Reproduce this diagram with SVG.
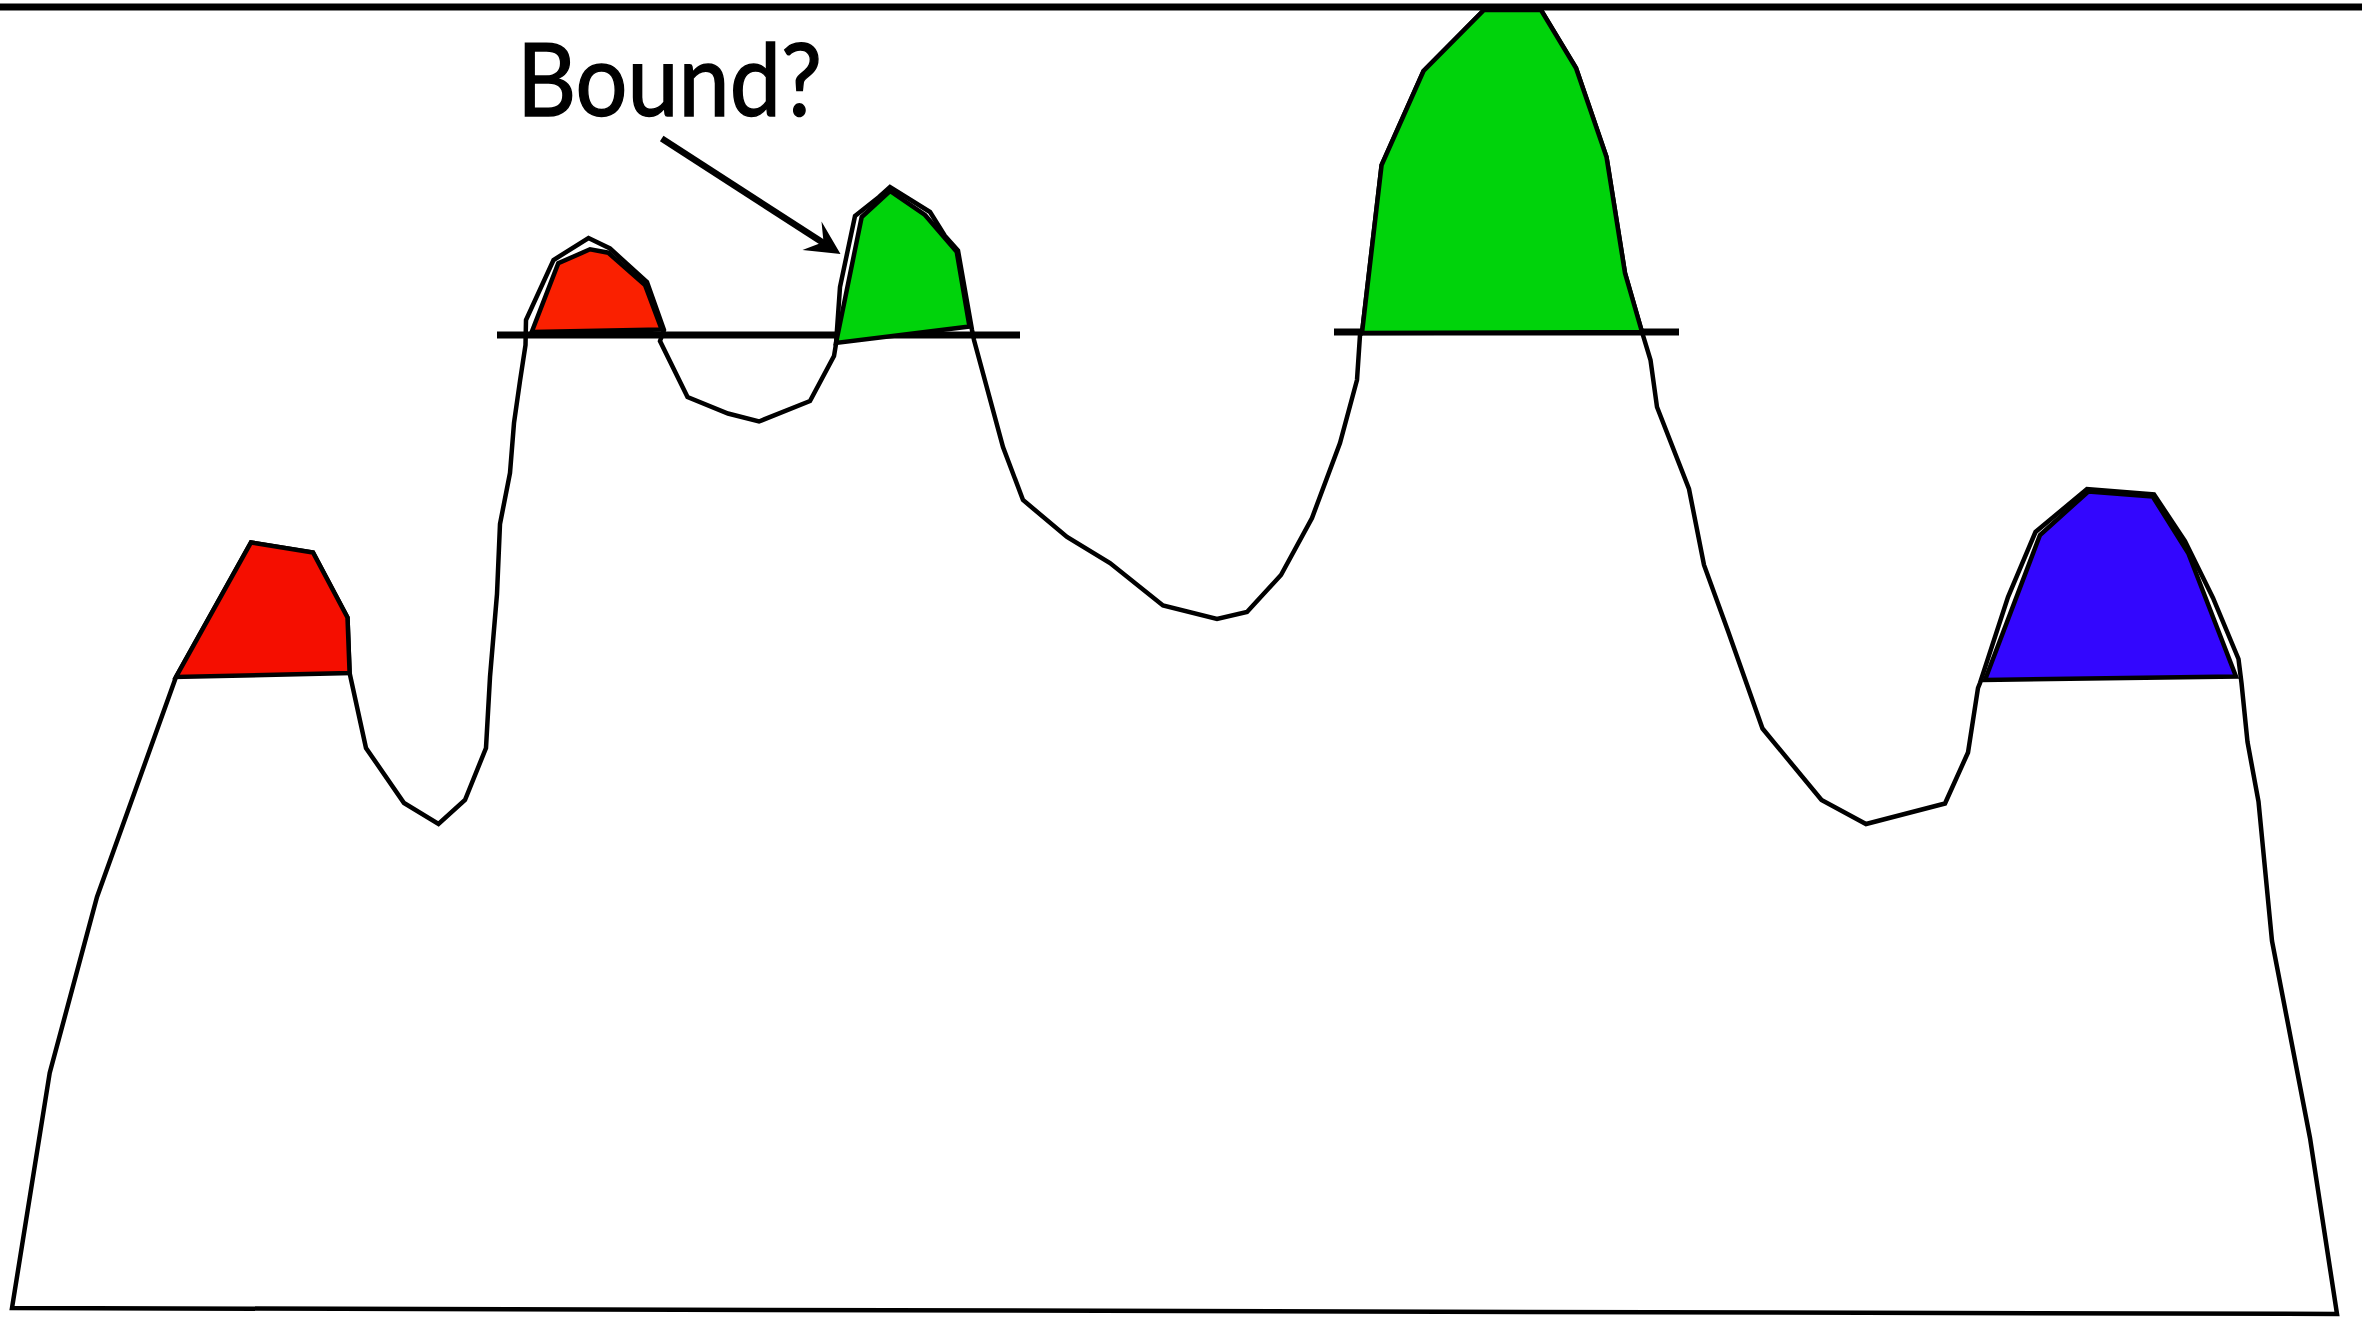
<svg xmlns="http://www.w3.org/2000/svg" width="2362" height="1318" viewBox="0 0 2362 1318">
  <style>
    .terrain { fill: #ffffff; stroke: #000000; stroke-width: 4.5; stroke-linejoin: miter; stroke-miterlimit: 10; }
    .peak { stroke: #000000; stroke-width: 4.5; stroke-linejoin: miter; stroke-miterlimit: 10; }
    .red1 { fill: #f50e00; }
    .red2 { fill: #fa2000; }
    .green { fill: #00d30b; }
    .blue { fill: #3306fe; }
    .bar { stroke: #000000; stroke-width: 7; fill: none; }
    .label { font-family: "Lato", "Open Sans", "Liberation Sans", sans-serif; font-size: 101px; fill: #000000; stroke: #000000; stroke-width: 1.5; }
    .arrow { stroke: #000000; stroke-width: 6.5; fill: none; }
  </style>
  <rect x="0" y="0" width="2362" height="1318" fill="#ffffff"/>

  <g id="terrain">
    <path class="terrain" d="M12,1308 L49.7,1073 L97,897 L176,677 L251,542.5 L313,552.5 L347.5,617.5 L349.6,673 L366,748 L404,803 L438.5,824 L465,800 L486,748 L490,677 L497,594 L500,524 L510,473 L514,423 L520,381 L525.5,345 L526,320 L553.5,260 L588.5,238 L610,248.5 L647,282 L664,330 L660,341 L687.5,397 L728,413.5 L759,421.5 L810,401 L834,356 L836,344 L840,287 L855,216 L879,197 L890,187 L930,212 L945,236 L958,250.5 L972,330 L974,340 L1003,447 L1023,500 L1067,537 L1110,563 L1163,605.5 L1217,619 L1247,612 L1281,575 L1312,518 L1340,443 L1357,380 L1360,335 L1362,333 L1381.6,165 L1423.5,71 L1484,10 L1541,10 L1576,68 L1606.5,157 L1625,273 L1642,332 L1650.5,360 L1657,407 L1689,489 L1704,565 L1728,631 L1762.5,728.5 L1821.5,800 L1866,824 L1945,803.5 L1968,752.5 L1978,688 L1980,683 L2008,597 L2035.5,532 L2087,489 L2154,494.5 L2185,541 L2213,598 L2238.5,659 L2241.5,683 L2247.5,742 L2258.5,801.5 L2272,941 L2310,1138 L2337,1314 Z"/>
  </g>

  <g id="bars">
    <line id="bar-left" class="bar" x1="497" y1="335" x2="1020" y2="335"/>
    <line id="bar-right" class="bar" x1="1334" y1="332" x2="1679" y2="332"/>
  </g>

  <g id="peak-red-1">
    <polygon class="peak red1" points="176,677 251,542.5 313,552.5 347.5,617.5 349.6,673"/>
  </g>
  <g id="peak-red-2">
    <polygon class="peak red2" points="531.7,332 558.3,263.3 590,249.3 608.3,252.7 645,285 661.7,329.5"/>
  </g>
  <g id="peak-green-small">
    <polygon class="peak green" points="836,343 861.7,217 890,191 925,215 956.7,251.7 969.5,326.5"/>
  </g>
  <g id="peak-green-big">
    <polygon class="peak green" points="1362,333 1381.6,165 1423.5,71 1484,10 1541,10 1576,68 1606.5,157 1625,273 1642,332"/>
  </g>
  <g id="peak-blue">
    <polygon class="peak blue" points="1985,680 2040,535 2088.3,491.5 2152.7,496.5 2188.3,553.3 2236,676.5"/>
  </g>

  <g id="top-border">
    <line class="bar" x1="0" y1="7" x2="2362" y2="7"/>
  </g>

  <g id="label-bound">
    <text class="label" x="517" y="116" textLength="305" lengthAdjust="spacingAndGlyphs">Bound?</text>
  </g>

  <g id="connectors">
    <line class="arrow" x1="661.7" y1="138.5" x2="825" y2="244"/>
    <polygon points="840.5,254 821.5,221.5 823.5,242 802.5,250" fill="#000000"/>
  </g>
</svg>
